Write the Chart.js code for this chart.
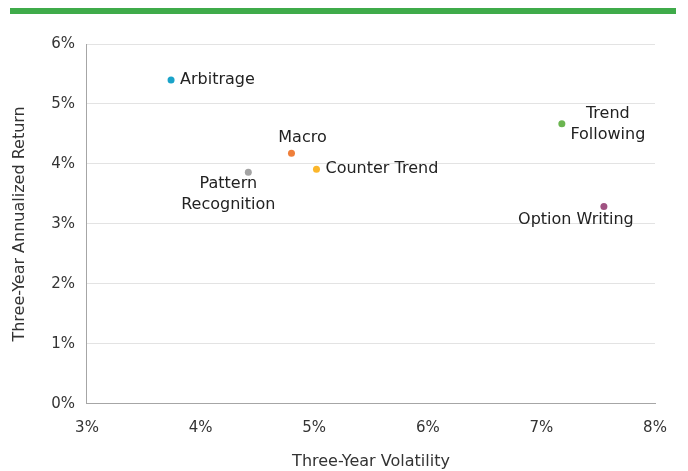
<!DOCTYPE html>
<html>
<head>
<meta charset="utf-8">
<script src="https://cdn.jsdelivr.net/npm/chart.js@4"></script>
<style>
  html, body { margin: 0; padding: 0; background: #fff; }
  #bar { position: absolute; left: 10px; top: 8px; width: 666px; height: 6px; background: #3fab4a; }
  #wrap { position: absolute; left: 0; top: 0; width: 688px; height: 471px; }
</style>
</head>
<body>
<div id="bar"></div>
<div id="wrap"><canvas id="chart1" width="688" height="471"></canvas></div>
<script>
var names = ['Arbitrage', 'Macro', 'Pattern Recognition', 'Counter Trend', 'Trend Following', 'Option Writing'];
var volatility = [3.74, 4.80, 4.42, 5.02, 7.18, 7.55];
var returns = [5.40, 4.18, 3.86, 3.91, 4.67, 3.29];
var colors = ['#1aa3c9', '#ef7f3a', '#a3a3a3', '#fbb62b', '#6bb550', '#a05282'];
var xTicks = [3, 4, 5, 6, 7, 8];
var yTicks = [0, 1, 2, 3, 4, 5, 6];

// label placement relative to the point
var labelPos = [
  { align: 'left', dx: 9, dy: 0, lines: ['Arbitrage'] },
  { align: 'center', dx: 11, dy: -15, lines: ['Macro'] },
  { align: 'center', dx: -20, dy: 12, lines: ['Pattern', 'Recognition'] },
  { align: 'left', dx: 9, dy: 0, lines: ['Counter Trend'] },
  { align: 'center', dx: 46, dy: -10, lines: ['Trend', 'Following'] },
  { align: 'center', dx: -28, dy: 13, lines: ['Option Writing'] }
];

var FONT = '"DejaVu Sans", sans-serif';

var datasets = [];
for (var i = 0; i < names.length; i++) {
  datasets.push({
    label: names[i],
    data: [{ x: volatility[i], y: returns[i] }],
    backgroundColor: colors[i],
    borderColor: colors[i],
    pointRadius: 3.5,
    pointHoverRadius: 3.5,
    borderWidth: 0
  });
}

var labelPlugin = {
  id: 'pointLabels',
  afterDatasetsDraw: function (chart) {
    var ctx = chart.ctx;
    ctx.save();
    ctx.font = '16px ' + FONT;
    ctx.fillStyle = '#222';
    ctx.textBaseline = 'middle';
    for (var i = 0; i < chart.data.datasets.length; i++) {
      var pt = chart.getDatasetMeta(i).data[0];
      var lp = labelPos[i];
      ctx.textAlign = lp.align;
      var lh = 21;
      for (var k = 0; k < lp.lines.length; k++) {
        ctx.fillText(lp.lines[k], pt.x + lp.dx, pt.y + lp.dy + k * lh);
      }
    }
    ctx.restore();
  }
};

var ctx = document.getElementById('chart1').getContext('2d');
var chart = new Chart(ctx, {
  type: 'scatter',
  data: { datasets: datasets },
  options: {
    responsive: false,
    animation: false,
    layout: { padding: { top: 44, right: 33, left: 6, bottom: -4 } },
    plugins: {
      legend: { display: false },
      tooltip: { enabled: false }
    },
    scales: {
      x: {
        min: 3, max: 8,
        afterBuildTicks: function (s) { s.ticks = xTicks.map(function (v) { return { value: v }; }); },
        ticks: {
          color: '#333', font: { family: FONT, size: 15 }, padding: 15,
          callback: function (v) { return v + '%'; }
        },
        grid: { display: false, drawTicks: false },
        border: { color: '#a6a6a6', width: 1 },
        title: { display: true, text: 'Three-Year Volatility', color: '#333', font: { family: FONT, size: 16 }, padding: { top: 0 } }
      },
      y: {
        min: 0, max: 6,
        afterBuildTicks: function (s) { s.ticks = yTicks.map(function (v) { return { value: v }; }); },
        ticks: {
          color: '#333', font: { family: FONT, size: 15 }, padding: 12,
          callback: function (v) { return v + '%'; }
        },
        grid: { color: '#e3e3e3', drawTicks: false },
        border: { color: '#a6a6a6', width: 1 },
        title: { display: true, text: 'Three-Year Annualized Return', color: '#333', font: { family: FONT, size: 16 }, padding: { bottom: 10 } }
      }
    }
  },
  plugins: [labelPlugin]
});
</script>
</body>
</html>
